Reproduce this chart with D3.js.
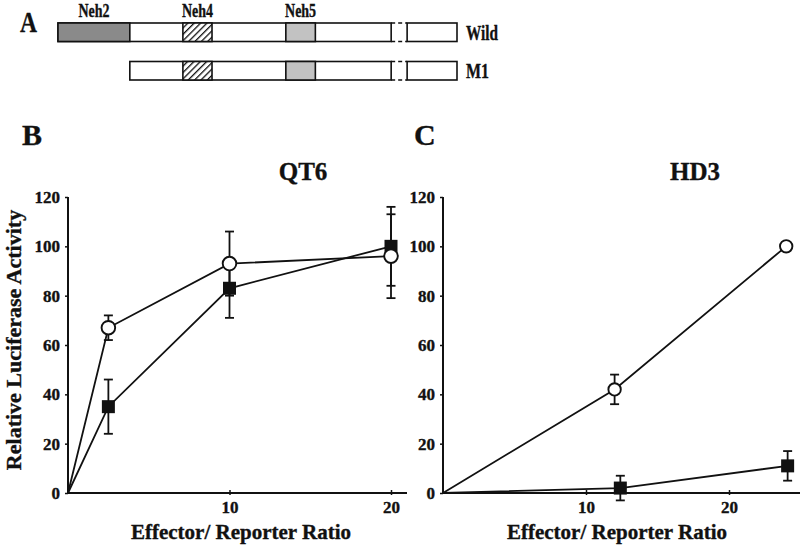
<!DOCTYPE html>
<html><head><meta charset="utf-8">
<script src="https://cdn.jsdelivr.net/npm/d3@7"></script>
<style>body{margin:0;background:#fff}svg{display:block}text{font-family:"Liberation Serif","Times New Roman",serif;font-weight:bold;fill:#111;stroke:#111;stroke-width:0.35px}</style>
</head><body>
<script>
// ---- Panel A: domain map (positions in relative units 0..100 of the protein) ----
const constructNames = ["Wild", "M1"];
const constructStart = [0, 18];          // relative start of each construct
const domainNames = ["Neh2", "Neh4", "Neh5"];
const domainStart = [0, 31.3, 57.1];
const domainEnd = [18, 38.6, 64.5];
const breakStart = 83.5, breakEnd = 87.5, constructEnd = 100;

// ---- Panel B: QT6 ----
const ratiosB = [0, 2.5, 10, 20];
const wildB = [0, 67, 93, 96];
const wildErrB = [0, 5, 13, 17];
const m1B = [0, 35, 83, 100];
const m1ErrB = [0, 11, 12, 16];

// ---- Panel C: HD3 ----
const ratiosWildC = [0, 12, 24];
const ratiosM1C = [0, 12.4, 24.1];
const wildC = [0, 42, 100];
const wildErrC = [0, 6, 0];
const m1C = [0, 2, 11];
const m1ErrC = [0, 5, 6];

const yTicks = [0, 20, 40, 60, 80, 100, 120];
const xTicks = [10, 20];

const W = 800, H = 547;
const svg = d3.select("body").append("svg").attr("width", W).attr("height", H);

// ----- Panel A -----
const defs = svg.append("defs");
const pat = defs.append("pattern").attr("id", "hatch").attr("patternUnits", "userSpaceOnUse")
  .attr("width", 4.5).attr("height", 4.5).attr("patternTransform", "rotate(45)");
pat.append("rect").attr("width", 4.5).attr("height", 4.5).attr("fill", "#fff");
pat.append("line").attr("x1", 0).attr("y1", 0).attr("x2", 0).attr("y2", 4.5).attr("stroke", "#111").attr("stroke-width", 2.6);

const xA = d3.scaleLinear().domain([0, 100]).range([58, 457]);
const rowY = d3.scalePoint().domain(constructNames).range([23, 61.5]);
const barH = 18.5;
const domainFill = ["#8a8a8a", "url(#hatch)", "#c2c2c2"];

const gA = svg.append("g");
constructNames.forEach((name, i) => {
  const y0 = rowY(name);
  const s = constructStart[i];
  const g = gA.append("g");
  g.append("rect").attr("x", xA(s)).attr("y", y0).attr("width", xA(breakStart) - xA(s)).attr("height", barH)
    .attr("fill", "#fff").attr("stroke", "#111").attr("stroke-width", 1.6);
  g.append("rect").attr("x", xA(breakEnd)).attr("y", y0).attr("width", xA(constructEnd) - xA(breakEnd)).attr("height", barH)
    .attr("fill", "#fff").attr("stroke", "#111").attr("stroke-width", 1.6);
  [y0, y0 + barH].forEach(yy => g.append("line").attr("x1", xA(breakStart)).attr("x2", xA(breakEnd))
    .attr("y1", yy).attr("y2", yy).attr("stroke", "#111").attr("stroke-width", 1.6).attr("stroke-dasharray", "4,3"));
  domainNames.forEach((d, j) => {
    if (domainStart[j] < s) return;
    g.append("rect").attr("x", xA(domainStart[j])).attr("y", y0).attr("width", xA(domainEnd[j]) - xA(domainStart[j])).attr("height", barH)
      .attr("fill", domainFill[j]).attr("stroke", "#111").attr("stroke-width", 1.6);
  });
  g.append("text").attr("x", 466).attr("y", y0 + barH - 2).attr("font-size", 21)
    .attr("textLength", name === "Wild" ? 32 : 23).attr("lengthAdjust", "spacingAndGlyphs").text(name);
});
domainNames.forEach((d, j) => {
  gA.append("text").attr("x", (xA(domainStart[j]) + xA(domainEnd[j])) / 2).attr("y", 17)
    .attr("text-anchor", "middle").attr("font-size", 18).attr("textLength", 31).attr("lengthAdjust", "spacingAndGlyphs").text(d);
});
svg.append("text").attr("x", 20).attr("y", 32).attr("font-size", 29).attr("textLength", 17).attr("lengthAdjust", "spacingAndGlyphs").text("A");

// ----- Panels B and C -----
const y = d3.scaleLinear().domain([0, 120]).range([493, 197]);

function panel(opts) {
  const g = svg.append("g");
  const x = d3.scaleLinear().domain([0, 20]).range(opts.xr);
  const yAxis = d3.axisLeft(y).tickValues(yTicks).tickSize(3).tickPadding(5).tickFormat(d3.format("d"));
  const ya = g.append("g").attr("transform", `translate(${opts.xr[0]},0)`).call(yAxis);
  ya.select(".domain").remove();
  ya.append("line").attr("x1", 0).attr("x2", 0).attr("y1", y(0)).attr("y2", y(120)).attr("stroke", "#111").attr("stroke-width", 2);
  ya.selectAll(".tick line").attr("stroke", "#111").attr("stroke-width", 1.5);
  ya.selectAll(".tick text").attr("font-size", 17).attr("font-family", "Liberation Serif").attr("font-weight", "bold").attr("fill", "#111");

  const xAxis = d3.axisBottom(x).tickValues(xTicks).tickSize(0).tickPadding(8).tickFormat(d3.format("d"));
  const xa = g.append("g").attr("transform", `translate(0,${y(0)})`).call(xAxis);
  xa.select(".domain").remove();
  xa.append("line").attr("x1", opts.xr[0]).attr("x2", opts.axisEnd).attr("y1", 0).attr("y2", 0).attr("stroke", "#111").attr("stroke-width", 2);
  xa.selectAll(".tick").append("line").attr("y1", -3).attr("y2", 2).attr("stroke", "#111").attr("stroke-width", 1.5);
  xa.selectAll(".tick text").attr("font-size", 17).attr("font-family", "Liberation Serif").attr("font-weight", "bold").attr("fill", "#111");

  const line = d3.line().x(d => x(d[0])).y(d => y(d[1]));
  opts.series.forEach(s => {
    const pts = s.xs.map((xv, i) => [xv, s.vals[i], s.errs[i]]);
    g.append("path").attr("d", line(pts)).attr("fill", "none").attr("stroke", "#111").attr("stroke-width", 1.8);
    pts.filter(p => p[2] > 0).forEach(p => {
      const cx = x(p[0]);
      g.append("line").attr("x1", cx).attr("x2", cx).attr("y1", y(p[1] - p[2])).attr("y2", y(p[1] + p[2])).attr("stroke", "#111").attr("stroke-width", 1.8);
      [p[1] - p[2], p[1] + p[2]].forEach(v => g.append("line").attr("x1", cx - 4.5).attr("x2", cx + 4.5).attr("y1", y(v)).attr("y2", y(v)).attr("stroke", "#111").attr("stroke-width", 1.8));
    });
  });
  opts.series.forEach(s => {
    s.xs.forEach((xv, i) => {
      if (i === 0) return;
      if (s.shape === "circle") {
        g.append("circle").attr("cx", x(xv)).attr("cy", y(s.vals[i])).attr("r", s.r).attr("fill", "#fff").attr("stroke", "#111").attr("stroke-width", 1.9);
      } else {
        g.append("rect").attr("x", x(xv) - 6.5).attr("y", y(s.vals[i]) - 6.5).attr("width", 13).attr("height", 13).attr("fill", "#111");
      }
    });
  });
  g.append("text").attr("x", opts.titleX).attr("y", 180).attr("text-anchor", "middle").attr("font-size", 25).text(opts.title);
  g.append("text").attr("x", opts.letterX).attr("y", 145).attr("font-size", 30).text(opts.letter);
  g.append("text").attr("x", opts.xLabelX).attr("y", 539).attr("text-anchor", "middle").attr("font-size", 21).text("Effector/ Reporter Ratio");
}

panel({
  xr: [68, 391], axisEnd: 407, title: "QT6", titleX: 303, letter: "B", letterX: 22, xLabelX: 241,
  series: [
    {xs: ratiosB, vals: m1B, errs: m1ErrB, shape: "square"},
    {xs: ratiosB, vals: wildB, errs: wildErrB, shape: "circle", r: 6.8}
  ]
});
panel({
  xr: [443, 729], axisEnd: 800, title: "HD3", titleX: 695, letter: "C", letterX: 414, xLabelX: 617,
  series: [
    {xs: ratiosM1C, vals: m1C, errs: m1ErrC, shape: "square"},
    {xs: ratiosWildC, vals: wildC, errs: wildErrC, shape: "circle", r: 6.2}
  ]
});

svg.append("text").attr("transform", "translate(21,340) rotate(-90)").attr("text-anchor", "middle").attr("font-size", 22)
  .text("Relative Luciferase Activity");
</script>
</body></html>
